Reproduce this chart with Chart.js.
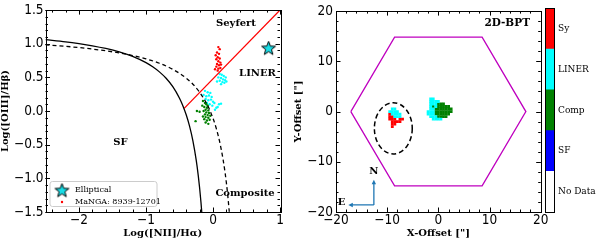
<!DOCTYPE html>
<html><head><meta charset="utf-8">
<script src="https://cdn.jsdelivr.net/npm/chart.js@4.4.0/dist/chart.umd.min.js"></script>
<style>
html,body{margin:0;padding:0;background:#fff;width:598px;height:242px;overflow:hidden}
canvas{position:absolute;top:0}
#c1{left:0}
#c2{left:285px}
#c3{left:544px}
</style></head><body>
<canvas id="c1" width="300" height="242"></canvas>
<canvas id="c2" width="313" height="242"></canvas>
<canvas id="c3" width="54" height="242"></canvas>
<script>
// ---------------- DATA ----------------
const bptXTicks = [-2, -1, 0, 1];
const bptYTicks = [-1.5, -1.0, -0.5, 0.0, 0.5, 1.0, 1.5];
const mapTicks = [-20, -10, 0, 10, 20];

// demarcation curves
const kauffmannCurve = [[-2.5,1.061],[-2.2,1.029],[-2.0,1.002],[-1.8,0.970],[-1.6,0.930],[-1.4,0.879],[-1.2,0.812],[-1.0,0.719],[-0.9,0.658],[-0.8,0.582],[-0.7,0.487],[-0.6,0.362],[-0.5,0.191],[-0.45,0.080],[-0.4,-0.056],[-0.35,-0.225],[-0.3,-0.443],[-0.25,-0.733],[-0.22,-0.959],[-0.2,-1.14],[-0.18,-1.352],[-0.168,-1.5]];
const kewleyCurve = [[-2.5,0.985],[-2.2,0.962],[-2.0,0.943],[-1.8,0.921],[-1.6,0.895],[-1.4,0.864],[-1.2,0.825],[-1.0,0.775],[-0.8,0.710],[-0.6,0.620],[-0.4,0.489],[-0.3,0.398],[-0.2,0.280],[-0.1,0.120],[-0.05,0.017],[0.0,-0.108],[0.05,-0.262],[0.1,-0.459],[0.15,-0.716],[0.18,-0.913],[0.2,-1.069],[0.22,-1.25],[0.243,-1.497]];
const seyfertLinerLine = [[-0.43,0.04],[1.0,1.5]];
const ellipticalPoint = [[0.83,0.94]];

const bptSy = [[0.08,0.95],[0.10,0.92],[0.06,0.87],[0.09,0.85],[0.04,0.83],[0.07,0.80],[0.10,0.78],[0.05,0.77],[0.08,0.74],[0.11,0.72],[0.06,0.70],[0.09,0.68],[0.12,0.69],[0.05,0.66],[0.08,0.63],[0.11,0.64],[0.07,0.60],[0.03,0.62]];
const bptLiner = [[0.10,0.55],[0.13,0.54],[0.16,0.52],[0.08,0.50],[0.12,0.49],[0.15,0.47],[0.18,0.46],[0.10,0.45],[0.14,0.43],[0.17,0.42],[0.06,0.44],[0.12,0.40],[0.19,0.50],[0.20,0.44],
  [-0.12,0.30],[-0.08,0.28],[-0.04,0.27],[-0.14,0.24],[-0.10,0.22],[-0.06,0.23],[-0.02,0.21],[-0.11,0.18],[-0.07,0.16],[-0.03,0.17],[0.00,0.14],[-0.09,0.12],[-0.05,0.10],[0.02,0.12],[-0.01,0.08],[0.05,0.05],[0.09,0.10],[0.12,0.11],[0.03,0.02],[0.07,0.06]];
const bptComp = [[-0.15,0.15],[-0.12,0.12],[-0.10,0.10],[-0.16,0.08],[-0.13,0.06],[-0.09,0.05],[-0.11,0.02],[-0.07,0.01],[-0.14,0.00],[-0.10,-0.02],[-0.06,-0.03],[-0.12,-0.05],[-0.08,-0.06],[-0.20,-0.01],[-0.24,0.00],[-0.11,-0.09],[-0.07,-0.10],[-0.13,-0.12],[-0.09,-0.14],[-0.05,-0.13],[-0.11,-0.17],[-0.07,-0.19],[-0.26,-0.15],[-0.04,-0.07],[-0.15,-0.08],[-0.08,0.08]];

// 2D map spaxels (arcsec)
const mapLiner = [[-1.5,2.5],[-1.0,2.5],[-1.5,2.0],[-1.0,2.0],[-0.5,2.0],[0.0,2.0],[-1.5,1.5],[-1.0,1.5],[-0.5,1.5],[-1.5,1.0],[-0.5,1.0],[-1.5,0.5],[-1.0,0.5],[-2.0,0.0],[-1.5,0.0],[-1.0,0.0],[-2.0,-0.5],[-1.5,-0.5],[-1.0,-0.5],[-1.5,-1.0],[-1.0,-1.0],[-0.5,-1.0],[-1.0,-1.5],[-0.5,-1.5],[0.0,-1.5],[0.5,-1.5],
  [-9.0,0.5],[-8.5,0.5],[-9.5,0.0],[-9.0,0.0],[-8.5,0.0],[-8.0,0.0],[-9.0,-0.5],[-8.5,-0.5],[-8.0,-0.5],[-7.5,-0.5],[-8.5,-1.0],[-8.0,-1.0],[-7.5,-1.0]];
const mapComp = [[-1.0,1.0],[0.0,1.5],[0.5,1.5],[1.0,1.5],[0.0,1.0],[0.5,1.0],[1.0,1.0],[1.5,1.0],[2.0,1.0],[-0.5,0.5],[0.0,0.5],[0.5,0.5],[1.0,0.5],[1.5,0.5],[2.0,0.5],[2.5,0.5],[-0.5,0.0],[0.0,0.0],[0.5,0.0],[1.0,0.0],[1.5,0.0],[2.0,0.0],[2.5,0.0],[-0.5,-0.5],[0.0,-0.5],[0.5,-0.5],[1.0,-0.5],[1.5,-0.5],[2.0,-0.5],[0.0,-1.0],[0.5,-1.0],[1.0,-1.0],[1.5,-1.0]];
const mapSy = [[-9.5,-0.5],[-9.5,-1.0],[-9.0,-1.0],[-9.5,-1.5],[-9.0,-1.5],[-8.5,-1.5],[-7.5,-1.5],[-7.0,-1.5],[-9.0,-2.0],[-8.5,-2.0],[-8.0,-2.0],[-7.5,-2.0],[-9.0,-2.5],[-8.5,-2.5],[-9.0,-3.0]];
const hexagonFoV = [[-17.1,0],[-8.55,14.8],[8.55,14.8],[17.1,0],[8.55,-14.8],[-8.55,-14.8],[-17.1,0]];

const cbClasses = ['No Data','SF','Comp','LINER','Sy'];
const cbCounts = [1,1,1,1,1];
const cbTicks = [0.5,1.5,2.5,3.5,4.5];

// ---------------- HELPERS ----------------
const SANS = "'DejaVu Sans Condensed','DejaVu Sans'", SERIF = "'DejaVu Serif'";
const pts = a => a.map(p => ({x:p[0], y:p[1]}));
const fmtMinus = s => s.replace('-', '\u2212');

function makeStar(size, R){
  const c = document.createElement('canvas'); c.width = c.height = size;
  const g = c.getContext('2d'); const cx = size/2, cy = size/2 + 0.8, r = R*0.42;
  g.beginPath();
  for (let i=0;i<10;i++){ const ang = -Math.PI/2 + i*Math.PI/5; const rad = i%2 ? r : R;
    g.lineTo(cx + rad*Math.cos(ang), cy + rad*Math.sin(ang)); }
  g.closePath(); g.fillStyle = '#19dde6'; g.fill(); g.lineWidth = 1; g.strokeStyle = '#000'; g.stroke();
  return c;
}
const starImg = makeStar(17, 7.3);

const frameTicks = {
  id:'frameTicks',
  afterDatasetsDraw(chart, args, o){
    const {ctx, chartArea:a} = chart; const xs = chart.scales.x, ys = chart.scales.y;
    ctx.save(); ctx.strokeStyle = '#000'; ctx.lineWidth = 1;
    const minors = (s, step) => { const out=[]; const n0=Math.ceil(s.min/step-1e-9), n1=Math.floor(s.max/step+1e-9); for(let k=n0;k<=n1;k++) out.push(k*step); return out; };
    ctx.beginPath();
    const seg = (x1,y1,x2,y2) => { ctx.moveTo(x1,y1); ctx.lineTo(x2,y2); };
    const xt = (vals, len) => vals.forEach(v => { const p = Math.round(xs.getPixelForValue(v))+0.5; seg(p,a.bottom,p,a.bottom-len); seg(p,a.top,p,a.top+len); });
    const yt = (vals, len) => vals.forEach(v => { const p = Math.round(ys.getPixelForValue(v))+0.5; seg(a.left,p,a.left+len,p); seg(a.right,p,a.right-len,p); });
    xt(minors(xs, o.xMinor), 2.5); yt(minors(ys, o.yMinor), 2.5);
    xt(xs.ticks.map(t=>t.value), 4.5); yt(ys.ticks.map(t=>t.value), 4.5);
    ctx.stroke();
    ctx.strokeRect(Math.round(a.left)+0.5, Math.round(a.top)+0.5, Math.round(a.right-a.left), Math.round(a.bottom-a.top));
    ctx.restore();
  }
};

const textLabels = {
  id:'textLabels',
  afterDraw(chart, args, o){
    const {ctx} = chart; const xs = chart.scales.x, ys = chart.scales.y;
    ctx.save(); ctx.fillStyle = '#000'; ctx.textBaseline = 'middle';
    (o.items||[]).forEach(it => {
      ctx.font = it.font; ctx.textAlign = it.align || 'center';
      ctx.fillText(it.text, xs.getPixelForValue(it.x), ys.getPixelForValue(it.y));
    });
    ctx.restore();
  }
};

const legendBox = {
  id:'legendBox',
  afterDraw(chart){
    const {ctx, chartArea:a} = chart;
    const L = a.left + 4.5, T = a.bottom - 30.5, W = 107, H = 25;
    ctx.save();
    ctx.fillStyle = 'rgba(255,255,255,0.8)'; ctx.strokeStyle = '#cccccc'; ctx.lineWidth = 1;
    ctx.beginPath(); ctx.roundRect(L, T, W, H, 2.5); ctx.fill(); ctx.stroke();
    ctx.drawImage(starImg, a.left + 16.5 - starImg.width/2, a.bottom - 22 - starImg.height/2);
    ctx.fillStyle = '#ff0000'; ctx.beginPath(); ctx.arc(a.left + 16.5, a.bottom - 10, 1.2, 0, Math.PI*2); ctx.fill();
    ctx.fillStyle = '#000'; ctx.font = "8px " + SERIF; ctx.textBaseline = 'middle'; ctx.textAlign = 'left';
    ctx.fillText('Elliptical', a.left + 29.5, a.bottom - 22);
    ctx.fillText('MaNGA: 8939-12701', a.left + 29.5, a.bottom - 10);
    ctx.restore();
  }
};

const mapExtras = {
  id:'mapExtras',
  afterDatasetsDraw(chart, args, o){
    const {ctx} = chart; const xs = chart.scales.x, ys = chart.scales.y;
    ctx.save();
    const e = o.ellipse;
    const cx = xs.getPixelForValue(e.cx), cy = ys.getPixelForValue(e.cy);
    const rx = Math.abs(xs.getPixelForValue(e.cx + e.rx) - cx), ry = Math.abs(ys.getPixelForValue(e.cy + e.ry) - cy);
    ctx.beginPath(); ctx.ellipse(cx, cy, rx, ry, 0, 0, Math.PI*2);
    ctx.setLineDash([5,3]); ctx.lineWidth = 1.5; ctx.strokeStyle = '#000'; ctx.stroke(); ctx.setLineDash([]);
    const c = o.compass; const col = '#1f77b4';
    const ox = xs.getPixelForValue(c.origin[0]), oy = ys.getPixelForValue(c.origin[1]);
    const nx = xs.getPixelForValue(c.north[0]), ny = ys.getPixelForValue(c.north[1]);
    const ex = xs.getPixelForValue(c.east[0]), ey = ys.getPixelForValue(c.east[1]);
    ctx.strokeStyle = col; ctx.fillStyle = col; ctx.lineWidth = 1.3;
    ctx.beginPath(); ctx.moveTo(ox, oy); ctx.lineTo(nx, ny + 3); ctx.moveTo(ox, oy); ctx.lineTo(ex + 3, ey); ctx.stroke();
    ctx.beginPath(); ctx.moveTo(nx, ny); ctx.lineTo(nx - 2.2, ny + 4.5); ctx.lineTo(nx + 2.2, ny + 4.5); ctx.closePath(); ctx.fill();
    ctx.beginPath(); ctx.moveTo(ex, ey); ctx.lineTo(ex + 4.5, ey - 2.2); ctx.lineTo(ex + 4.5, ey + 2.2); ctx.closePath(); ctx.fill();
    ctx.fillStyle = '#000'; ctx.font = "bold 10px " + SERIF; ctx.textAlign = 'center'; ctx.textBaseline = 'middle';
    ctx.fillText('N', xs.getPixelForValue(c.nLabel[0]), ys.getPixelForValue(c.nLabel[1]));
    ctx.fillText('E', xs.getPixelForValue(c.eLabel[0]), ys.getPixelForValue(c.eLabel[1]));
    ctx.restore();
  }
};

const tickFont = {family: SANS, size: 13.5};
const titleFont = {family: SERIF, size: 10, weight: 'bold', lineHeight: 1.2};

// ---------------- LEFT: BPT ----------------
new Chart(document.getElementById('c1'), {
  type:'scatter',
  data:{datasets:[
    {data: pts(kauffmannCurve), showLine:true, borderColor:'#000', borderWidth:1.3, pointRadius:0, cubicInterpolationMode:'monotone'},
    {data: pts(kewleyCurve), showLine:true, borderColor:'#000', borderWidth:1.3, borderDash:[4,3], pointRadius:0, cubicInterpolationMode:'monotone'},
    {data: pts(seyfertLinerLine), showLine:true, borderColor:'#ff0000', borderWidth:1.3, pointRadius:0},
    {data: pts(bptComp), backgroundColor:'#008000', borderWidth:0, pointRadius:1.2},
    {data: pts(bptLiner), backgroundColor:'#00ffff', borderWidth:0, pointRadius:1.2},
    {data: pts(bptSy), backgroundColor:'#ff0000', borderWidth:0, pointRadius:1.2},
    {data: pts(ellipticalPoint), pointStyle: starImg, pointRadius: 8}
  ]},
  options:{
    responsive:false, animation:false, devicePixelRatio:1,
    layout:{padding:{top:8, right:20, left:0, bottom:0}},
    plugins:{legend:{display:false}, tooltip:{enabled:false},
      frameTicks:{xMinor:0.2, yMinor:0.1},
      textLabels:{items:[
        {text:'Seyfert', x:0.343, y:1.309, font:"bold 10px "+SERIF},
        {text:'LINER', x:0.664, y:0.559, font:"bold 10px "+SERIF},
        {text:'SF', x:-1.381, y:-0.471, font:"bold 10px "+SERIF},
        {text:'Composite', x:0.478, y:-1.221, font:"bold 10px "+SERIF}
      ]}
    },
    scales:{
      x:{type:'linear', min:-2.5, max:1,
        afterBuildTicks: s => { s.ticks = bptXTicks.map(v => ({value:v})); },
        afterFit: s => { s.height = 30; },
        grid:{display:false, drawTicks:false}, border:{display:false},
        ticks:{font:tickFont, color:'#000', padding:0, maxRotation:0, callback: v => fmtMinus(String(v))},
        title:{display:true, text:'Log([NII]/H\u03b1)', font:titleFont, color:'#000', padding:{top:0, bottom:3}}
      },
      y:{type:'linear', min:-1.5, max:1.5,
        afterBuildTicks: s => { s.ticks = bptYTicks.map(v => ({value:v})); },
        afterFit: s => { s.width = 45.5; },
        grid:{display:false, drawTicks:false}, border:{display:false},
        ticks:{font:tickFont, color:'#000', padding:2, callback: v => fmtMinus(v.toFixed(1))},
        title:{display:true, text:'Log([OIII]/H\u03b2)', font:titleFont, color:'#000', padding:{top:-1, bottom:0}}
      }
    }
  },
  plugins:[frameTicks, textLabels, legendBox]
});

// ---------------- RIGHT: 2D map ----------------
new Chart(document.getElementById('c2'), {
  type:'scatter',
  data:{datasets:[
    {data: pts(mapLiner), backgroundColor:'#00ffff', borderWidth:0, pointStyle:'rect', pointRadius:2.0},
    {data: pts(mapComp), backgroundColor:'#008000', borderWidth:0, pointStyle:'rect', pointRadius:2.0},
    {data: pts(mapSy), backgroundColor:'#ff0000', borderWidth:0, pointStyle:'rect', pointRadius:2.0},
    {data: pts(hexagonFoV), showLine:true, borderColor:'#bf00bf', borderWidth:1.3, pointRadius:0, tension:0}
  ]},
  options:{
    responsive:false, animation:false, devicePixelRatio:1,
    layout:{padding:{top:8, right:57.3, left:0, bottom:0}},
    plugins:{legend:{display:false}, tooltip:{enabled:false},
      frameTicks:{xMinor:2, yMinor:2},
      textLabels:{items:[{text:'2D-BPT', x:17.9, y:17.65, align:'right', font:"bold 10.5px "+SERIF}]},
      mapExtras:{
        ellipse:{cx:-8.8, cy:-3.35, rx:3.7, ry:5.1},
        compass:{origin:[-12.6,-18.6], north:[-12.6,-13.6], east:[-17.6,-18.6], nLabel:[-12.6,-12.0], eLabel:[-18.9,-18.1]}
      }
    },
    scales:{
      x:{type:'linear', min:-20, max:20,
        afterBuildTicks: s => { s.ticks = mapTicks.map(v => ({value:v})); },
        afterFit: s => { s.height = 30; },
        grid:{display:false, drawTicks:false}, border:{display:false},
        ticks:{font:tickFont, color:'#000', padding:0, maxRotation:0, callback: v => fmtMinus(String(v))},
        title:{display:true, text:'X-Offset ["]', font:titleFont, color:'#000', padding:{top:0, bottom:3}}
      },
      y:{type:'linear', min:-20, max:20,
        afterBuildTicks: s => { s.ticks = mapTicks.map(v => ({value:v})); },
        afterFit: s => { s.width = 51; },
        grid:{display:false, drawTicks:false}, border:{display:false},
        ticks:{font:tickFont, color:'#000', padding:3, callback: v => fmtMinus(String(v))},
        title:{display:true, text:'Y-Offset ["]', font:titleFont, color:'#000', padding:{top:7.5, bottom:0}}
      }
    }
  },
  plugins:[frameTicks, mapExtras, textLabels]
});

// ---------------- COLORBAR ----------------
const cbColors = ['#ffffff','#0000ff','#008000','#00ffff','#ff0000'];
new Chart(document.getElementById('c3'), {
  type:'bar',
  data:{labels:[''], datasets: cbClasses.map((name, i) => ({label:name, data:[cbCounts[i]], backgroundColor:cbColors[i], borderWidth:0, barPercentage:1, categoryPercentage:1}))},
  options:{
    responsive:false, animation:false, devicePixelRatio:1,
    layout:{padding:{top:7, right:0, left:1, bottom:30}},
    plugins:{legend:{display:false}, tooltip:{enabled:false}},
    scales:{
      x:{display:false, stacked:true},
      y:{stacked:true, min:0, max:5, position:'right',
        afterBuildTicks: s => { s.ticks = cbTicks.map(v => ({value:v})); },
        afterFit: s => { s.width = 43; },
        grid:{display:false, drawTicks:false}, border:{display:false},
        ticks:{font:{family:SERIF, size:9}, color:'#000', padding:3, callback: v => cbClasses[Math.floor(v)]}
      }
    }
  },
  plugins:[{id:'cbFrame', afterDraw(chart){ const {ctx, chartArea:a} = chart; ctx.save(); ctx.strokeStyle='#000'; ctx.lineWidth=1;
    ctx.strokeRect(Math.round(a.left)+0.5, Math.round(a.top)+0.5, Math.round(a.right-a.left)-1, Math.round(a.bottom-a.top)); ctx.restore(); }}]
});
</script>
</body></html>
